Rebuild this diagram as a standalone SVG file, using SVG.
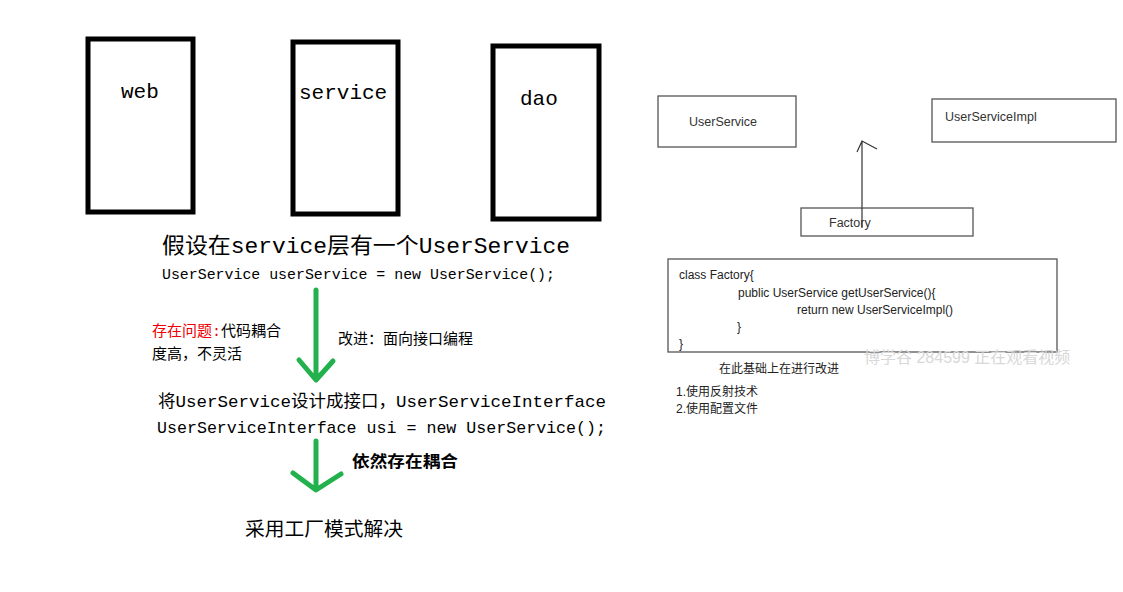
<svg xmlns="http://www.w3.org/2000/svg" width="1123" height="592" viewBox="0 0 1123 592">
<style>
.layer{fill:#fff;stroke:#000;stroke-width:5}
.lt{font-family:"Liberation Mono","Noto Sans CJK SC",monospace;font-size:21px;fill:#000}
.cn{font-family:"Liberation Mono","Noto Sans CJK SC",monospace;fill:#000}
.g{fill:none;stroke:#22b14c;stroke-width:5;stroke-linecap:round;stroke-linejoin:round}
.rb{fill:#fff;stroke:#555;stroke-width:1.3}
.rt{font-family:"Liberation Sans","Noto Sans CJK SC",sans-serif;font-size:12.5px;fill:#333}
.rc{font-family:"Liberation Sans","Noto Sans CJK SC",sans-serif;font-size:12px;fill:#222}
</style>
<rect width="1123" height="592" fill="#fff"/>
<g id="web"><rect class="layer" x="88" y="39" width="105" height="173"/><text class="lt" x="121" y="98">web</text></g>
<g id="service"><rect class="layer" x="293" y="42" width="105" height="172"/><text class="lt" x="299" y="99">service</text></g>
<g id="dao"><rect class="layer" x="493" y="46" width="106" height="173"/><text class="lt" x="520" y="105">dao</text></g>
<g id="notes-left">
<text class="cn" x="162" y="253" font-size="22" textLength="408" lengthAdjust="spacingAndGlyphs">假设在service层有一个UserService</text>
<text class="cn" x="162" y="279" font-size="15" textLength="393" lengthAdjust="spacingAndGlyphs">UserService userService = new UserService();</text>
<text class="cn" x="152" y="336" font-size="15"><tspan fill="#e00">存在问题:</tspan>代码耦合</text>
<text class="cn" x="152" y="359" font-size="15">度高，不灵活</text>
<text class="cn" x="338" y="344" font-size="15">改进：面向接口编程</text>
<text class="cn" x="158" y="407" font-size="17" textLength="448" lengthAdjust="spacingAndGlyphs">将UserService设计成接口，UserServiceInterface</text>
<text class="cn" x="157" y="433" font-size="17" textLength="449" lengthAdjust="spacingAndGlyphs">UserServiceInterface usi = new UserService();</text>
<text class="cn" x="352" y="467" font-size="16" font-weight="bold" textLength="106" lengthAdjust="spacingAndGlyphs">依然存在耦合</text>
<text class="cn" x="245" y="536" font-size="19" textLength="158" lengthAdjust="spacingAndGlyphs">采用工厂模式解决</text>
</g>
<g id="connectors">
<path class="g" d="M316 290V379M299 360L316 380L333 361"/>
<path class="g" d="M316 441V489M293 473L316 490L341 474"/>
<path d="M862 228V142M857 152L862 141L877 149" fill="none" stroke="#333" stroke-width="1.2"/>
</g>
<g id="UserService"><rect class="rb" x="658" y="96" width="138" height="51"/><text class="rt" x="689" y="126">UserService</text></g>
<g id="UserServiceImpl"><rect class="rb" x="932" y="99" width="184" height="43"/><text class="rt" x="945" y="121">UserServiceImpl</text></g>
<g id="Factory"><rect class="rb" x="801" y="208" width="172" height="28"/><text class="rt" x="829" y="227">Factory</text></g>
<line x1="862" y1="208" x2="862" y2="228" stroke="#333" stroke-width="1.2"/>
<g id="code">
<rect class="rb" x="668" y="259" width="389" height="93"/>
<text class="rc" x="679" y="279">class Factory{</text>
<text class="rc" x="738" y="297">public UserService getUserService(){</text>
<text class="rc" x="797" y="314">return new UserServiceImpl()</text>
<text class="rc" x="737" y="331">}</text>
<text class="rc" x="679" y="348">}</text>
</g>
<text x="864" y="363" font-family="Liberation Sans,Noto Sans CJK SC,sans-serif" font-size="16" fill="#d8d8d8">博学谷 284599 正在观看视频</text>
<text class="rc" x="719" y="373">在此基础上在进行改进</text>
<text class="rc" x="676" y="396">1.使用反射技术</text>
<text class="rc" x="676" y="413">2.使用配置文件</text>
</svg>
